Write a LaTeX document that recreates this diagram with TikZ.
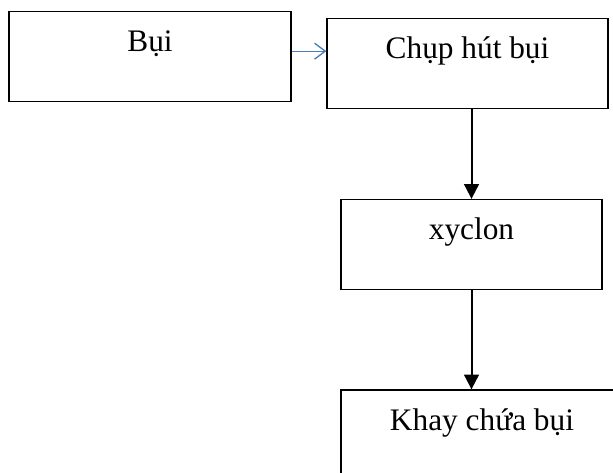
\documentclass[tikz,border=0pt]{standalone}
\usepackage{fontspec}
\setmainfont{Liberation Serif}
\usetikzlibrary{arrows.meta}
\definecolor{linkblue}{HTML}{4A7EBB}
\tikzset{
  box/.style={draw,line width=1pt,inner sep=0pt,text height=30pt,text depth=37.5pt,
    font=\fontsize{23.5}{28}\selectfont},
  flow/.style={line width=1.5pt,-{Triangle[length=11pt,width=11pt]}},
  feed/.style={linkblue,line width=1pt,-{Straight Barb[length=8pt,width=12pt]}}
}
\begin{document}
\begin{tikzpicture}[x=0.75pt,y=-0.75pt]
\useasboundingbox (0,0) rectangle (613,472);
\clip (0,0) rectangle (613,472);
\node[box,minimum width=211.5pt] (bui) at (150,56.5) {Bụi};
\node[box,minimum width=210.75pt] (chup) at (467.5,63.5) {Chụp hút bụi};
\node[box,minimum width=195.75pt] (xyclon) at (471.5,244.5) {xyclon};
\node[box,minimum width=211.5pt] (khay) at (482,435) {Khay chứa bụi};
\draw[feed] ([yshift=4pt]bui.east) -- ([yshift=4pt]bui.east -| chup.west);
\draw[flow] (xyclon.north |- chup.south) -- (xyclon.north);
\draw[flow] (xyclon.south) -- (xyclon.south |- khay.north);
\end{tikzpicture}
\end{document}
